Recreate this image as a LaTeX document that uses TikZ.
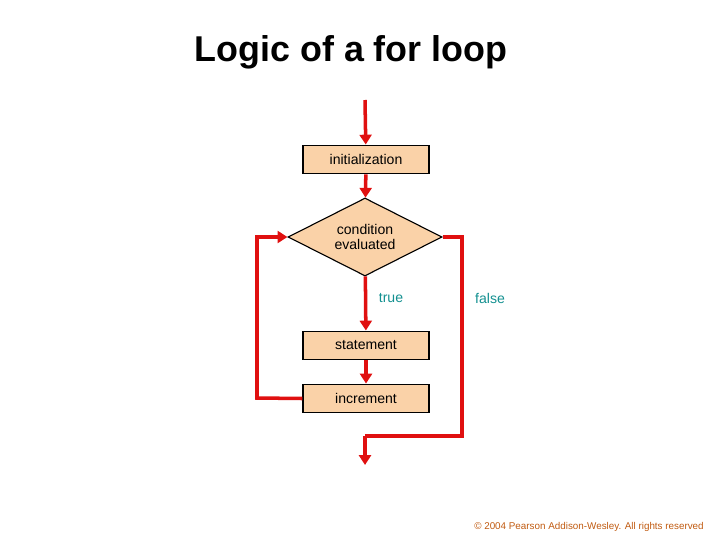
\documentclass[tikz,border=0pt]{standalone}
\usepackage{fontspec}
\setmainfont{Liberation Sans}
\usepackage{tikz}
\usetikzlibrary{shapes.geometric, arrows.meta}
\definecolor{boxfill}{HTML}{FAD2A8}
\definecolor{flowred}{HTML}{E01010}
\definecolor{labteal}{HTML}{139090}
\definecolor{copyc}{HTML}{C05A10}
\tikzstyle{process} = [rectangle, minimum width=3.15cm, minimum height=0.72cm, text centered, draw=black, thick, fill=boxfill, font=\normalsize]
\tikzstyle{decision} = [diamond, minimum width=3.85cm, minimum height=1.95cm, inner sep=0pt, aspect=2, text centered, align=center, draw=black, thick, fill=boxfill, font=\normalsize]
\tikzstyle{arrow} = [line width=2.5pt, draw=flowred, line join=miter, -{Triangle[length=7pt,width=8.5pt]}]
\tikzstyle{line} = [line width=2.5pt, draw=flowred, line join=miter]
\tikzstyle{lab} = [text=labteal, font=\normalsize]

\begin{document}
\begin{tikzpicture}[x=0.025cm, y=-0.025cm]
\useasboundingbox (0,0) rectangle (720,540);
\node (title) at (351,52) {\fontsize{25.5}{30}\selectfont\bfseries Logic of a for loop};
\coordinate (in) at (365,100);
\node (init) [process] at (366,159.5) {initialization};
\node (cond) [decision] at (365,237) {condition\\[-1pt]evaluated};
\node (stmt) [process] at (366,345.5) {statement};
\node (incr) [process] at (366,398.5) {increment};
\node (true) [lab] at (391,298) {true};
\node (false) [lab] at (490,298) {false};
\coordinate (out) at (365,465);
\coordinate (r1) at (462,237);
\coordinate (r2) at (462,436);
\coordinate (r3) at (365,436);
\coordinate (l1) at (257,398);
\coordinate (l2) at (257,237);
\node (copy) [text=copyc, font=\scriptsize] at (589,527) {\textcopyright{} 2004 Pearson Addison-Wesley. All rights reserved};

\draw [arrow] (in) -- (init);
\draw [arrow] (init) -- (cond);
\draw [arrow] (cond) -- (stmt);
\draw [arrow] (stmt) -- (incr);
\draw [line] (cond.east) -- (r1) -- (r2) -- (r3);
\draw [arrow] (r3) -- (out);
\draw [arrow] (incr.west) -- (l1) -- (l2) -- (cond.west);
\end{tikzpicture}
\end{document}
